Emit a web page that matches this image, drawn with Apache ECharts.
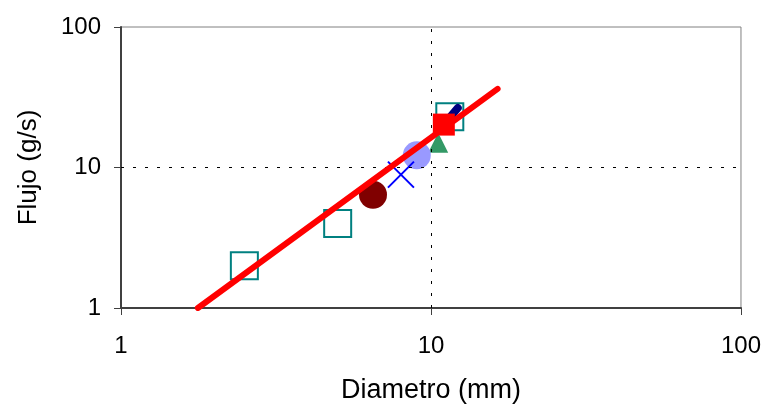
<!DOCTYPE html>
<html><head><meta charset="utf-8">
<script src="https://cdn.jsdelivr.net/npm/echarts@6/dist/echarts.min.js"></script>
<style>html,body{margin:0;padding:0;background:#fff}#c{width:764px;height:409px}</style>
</head><body><div id="c"></div>
<script>
const xTicks = [1, 10, 100];
const yTicks = [1, 10, 100];
const squaresTeal = [[2.5, 2.0], [5.0, 4.0], [11.5, 23]];
const navySeg = [[11.0, 20.2], [12.2, 26.5]];
const redSquare = [[11.0, 20.2]];
const greenTriangle = [[10.55, 15.0]];
const lightCircle = [[9.0, 12.2]];
const blueCross = [[8.0, 8.9]];
const darkCircle = [[6.5, 6.4]];
const fitLine = [[1.77, 1.0], [16.4, 36.3]];
const gridX = 10, gridY = 10;

const chart = echarts.init(document.getElementById('c'));
const font = 'Liberation Sans, Arial, sans-serif';
const crossPath = 'path://M0,0L10,10M10,0L0,10';
chart.setOption({
  animation: false,
  grid: {left: 121, right: 23, top: 27, bottom: 100, show: true, borderColor: '#808080', borderWidth: 1},
  xAxis: {
    type: 'log', logBase: 10, min: xTicks[0], max: xTicks[2],
    name: 'Diametro (mm)', nameLocation: 'middle', nameGap: 69,
    nameTextStyle: {fontFamily: font, fontSize: 27, color: '#000'},
    axisLine: {lineStyle: {color: '#404040', width: 2}},
    axisTick: {length: 7, lineStyle: {color: '#404040'}},
    minorTick: {show: false},
    axisLabel: {fontFamily: font, fontSize: 24, color: '#000', margin: 26},
    splitLine: {show: false}
  },
  yAxis: {
    type: 'log', logBase: 10, min: yTicks[0], max: yTicks[2],
    name: 'Flujo (g/s)', nameLocation: 'middle', nameGap: 79,
    nameTextStyle: {fontFamily: font, fontSize: 26, color: '#000'},
    axisLine: {lineStyle: {color: '#404040', width: 2}},
    axisTick: {length: 7, lineStyle: {color: '#404040'}},
    axisLabel: {fontFamily: font, fontSize: 24, color: '#000', margin: 20},
    splitLine: {show: false}
  },
  series: [
    {type: 'line', data: [], silent: true, z: 1,
     markLine: {symbol: 'none', silent: true, label: {show: false},
       lineStyle: {color: '#000', type: [3, 9], width: 1},
       data: [{xAxis: gridX}, {yAxis: gridY}]}},
    {type: 'scatter', data: squaresTeal, symbol: 'rect', symbolSize: 27, z: 2,
     itemStyle: {color: '#fff', borderColor: '#008080', borderWidth: 2, opacity: 1}},
    {type: 'line', data: navySeg, showSymbol: false, symbol: 'none', z: 3,
     lineStyle: {color: '#000080', width: 8, cap: 'round', opacity: 1}},
    {type: 'scatter', data: redSquare, symbol: 'rect', symbolSize: 22, z: 4,
     itemStyle: {color: '#ff0000', opacity: 1}},
    {type: 'scatter', data: greenTriangle, symbol: 'triangle', symbolSize: 20, z: 4,
     itemStyle: {color: '#339966', opacity: 1}},
    {type: 'scatter', data: lightCircle, symbol: 'circle', symbolSize: 28, z: 4,
     itemStyle: {color: '#9999ff', opacity: 1}},
    {type: 'scatter', data: blueCross, symbol: crossPath, symbolSize: 26, z: 4,
     itemStyle: {color: 'none', borderColor: '#0000ff', borderWidth: 2, opacity: 1}},
    {type: 'scatter', data: darkCircle, symbol: 'circle', symbolSize: 28, z: 4,
     itemStyle: {color: '#800000', opacity: 1}},
    {type: 'line', data: fitLine, showSymbol: false, symbol: 'none', z: 6,
     lineStyle: {color: '#ff0000', width: 6, cap: 'round', opacity: 1}}
  ]
});
</script></body></html>
